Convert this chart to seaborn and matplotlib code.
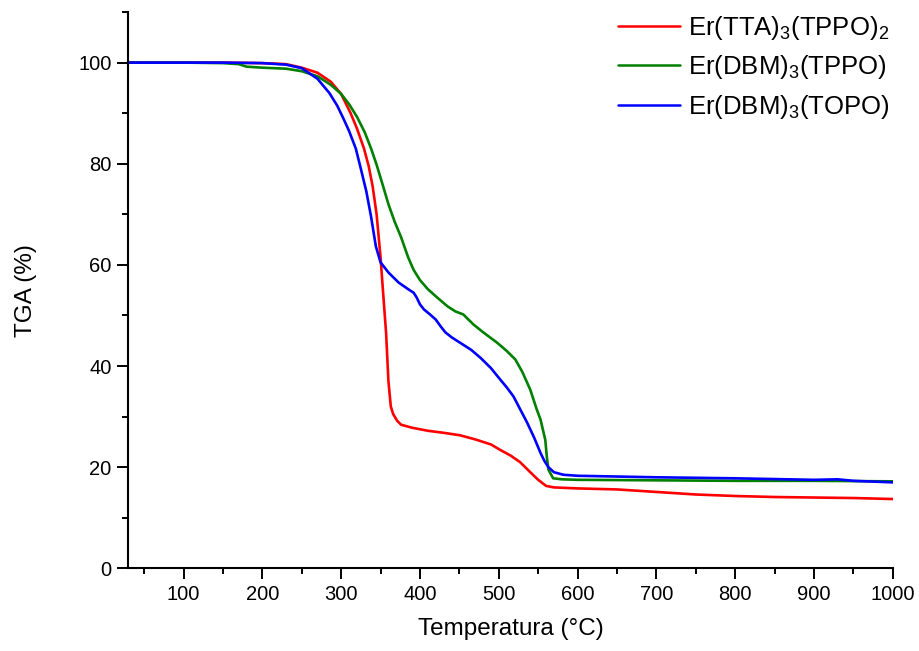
import pandas as pd
import matplotlib
matplotlib.use('Agg')
import matplotlib.pyplot as plt
from matplotlib.ticker import MultipleLocator
import seaborn as sns

# TGA curves (temperature in C, mass in %)
tta_temp = [30, 100, 150, 200, 230, 250, 270, 287, 300, 312, 320, 329, 335, 340, 345,
            350, 353, 357, 360, 363, 366, 371, 376, 390, 410, 430, 451, 470, 490, 502,
            515, 527, 540, 550, 560, 570, 600, 650, 700, 750, 800, 850, 900, 950, 1000]
tta_mass = [100, 100, 100, 99.9, 99.7, 99.0, 98.0, 96.2, 93.8, 90.0, 87.0, 83, 79.5, 75.5, 70,
            61.5, 55, 46.6, 37, 32, 30.5, 29.2, 28.4, 27.8, 27.2, 26.8, 26.3, 25.5, 24.5, 23.4,
            22.3, 21, 19, 17.5, 16.3, 16.0, 15.8, 15.6, 15.1, 14.6, 14.3, 14.1, 14.0, 13.9, 13.7]

dbm_tppo_temp = [30, 100, 150, 170, 180, 200, 230, 250, 270, 287, 300, 310, 320, 330, 338,
                 345, 352, 360, 368, 376, 385, 392, 400, 410, 420, 435, 445, 455, 468, 480,
                 498, 510, 521, 530, 540, 548, 553, 559, 561, 563, 569, 580, 600, 700, 800,
                 900, 1000]
dbm_tppo_mass = [100, 100, 99.9, 99.7, 99.2, 99.0, 98.8, 98.3, 97.3, 95.6, 93.8, 91.8, 89.3, 86.2, 83,
                 79.8, 76.2, 72, 68.5, 65.5, 61.5, 59, 57, 55.2, 53.8, 51.8, 50.8, 50.2, 48.2, 46.7,
                 44.6, 43, 41.3, 38.8, 35.3, 31.5, 29.4, 25.4, 22, 19.5, 17.8, 17.6, 17.5, 17.4, 17.3,
                 17.3, 17.2]

dbm_topo_temp = [30, 100, 150, 200, 230, 250, 270, 285, 295, 303, 310, 318.6, 325, 332, 338,
                 344, 350, 360, 373, 385, 392, 396, 400, 405, 412, 420, 426, 432, 440, 451,
                 465, 477, 490, 502, 510, 518.6, 527, 536, 545, 553, 558, 563, 570, 582, 600,
                 700, 800, 900, 930, 950, 1000]
dbm_topo_mass = [100, 100, 100, 99.9, 99.6, 98.9, 96.8, 94, 91.5, 88.9, 86.5, 83, 79, 74.5, 69.5,
                 63.7, 60.5, 58.5, 56.5, 55.2, 54.5, 53.5, 52.2, 51.2, 50.3, 49.2, 47.9, 46.7, 45.7, 44.6,
                 43.2, 41.6, 39.6, 37.3, 35.8, 34, 31.5, 28.8, 25.8, 22.8, 21.2, 20, 19, 18.5, 18.3,
                 18.0, 17.8, 17.5, 17.6, 17.3, 17.0]

labels = ['Er(TTA)$_3$(TPPO)$_2$', 'Er(DBM)$_3$(TPPO)', 'Er(DBM)$_3$(TOPO)']
colors = ['#ff0000', '#008000', '#0000ff']

sns.set_style('ticks')
plt.rcParams['font.family'] = ['Liberation Sans', 'DejaVu Sans']
plt.rcParams['mathtext.default'] = 'regular'
plt.rcParams['text.color'] = 'black'
plt.rcParams['axes.labelcolor'] = 'black'
plt.rcParams['xtick.color'] = 'black'
plt.rcParams['ytick.color'] = 'black'

fig = plt.figure(figsize=(9.2, 6.51), dpi=100)
ax = fig.add_axes([0.1395, 0.127, 0.831, 0.8545])

series = [(tta_temp, tta_mass), (dbm_tppo_temp, dbm_tppo_mass), (dbm_topo_temp, dbm_topo_mass)]
for (t, m), lab, c in zip(series, labels, colors):
    df = pd.DataFrame({'T': t, 'TGA': m})
    sns.lineplot(data=df, x='T', y='TGA', ax=ax, color=c, linewidth=1.9, label=lab,
                 sort=False, estimator=None)

ax.set_xlim(30, 1000)
ax.set_ylim(0, 110)
ax.set_xticks([100, 200, 300, 400, 500, 600, 700, 800, 900, 1000])
ax.set_yticks([0, 20, 40, 60, 80, 100])
ax.xaxis.set_minor_locator(MultipleLocator(50))
ax.yaxis.set_minor_locator(MultipleLocator(10))

ax.tick_params(which='major', direction='out', length=8, width=1.4, labelsize=14.5, pad=4)
ax.tick_params(which='minor', direction='out', length=4, width=1.4)

sns.despine(ax=ax)
for s in ['left', 'bottom']:
    ax.spines[s].set_linewidth(1.5)
    ax.spines[s].set_color('black')

ax.set_xlabel('Temperatura (°C)', fontsize=17.5, labelpad=10)
ax.set_ylabel('TGA (%)', fontsize=17.5, labelpad=30)

leg = ax.legend(loc='upper right', frameon=False, fontsize=18.5, handlelength=2.4,
                labelspacing=0.45, handletextpad=0.3, borderaxespad=0.1,
                bbox_to_anchor=(1.012, 1.02))
for line in leg.get_lines():
    line.set_linewidth(1.8)

fig.savefig('out.png', dpi=100)
